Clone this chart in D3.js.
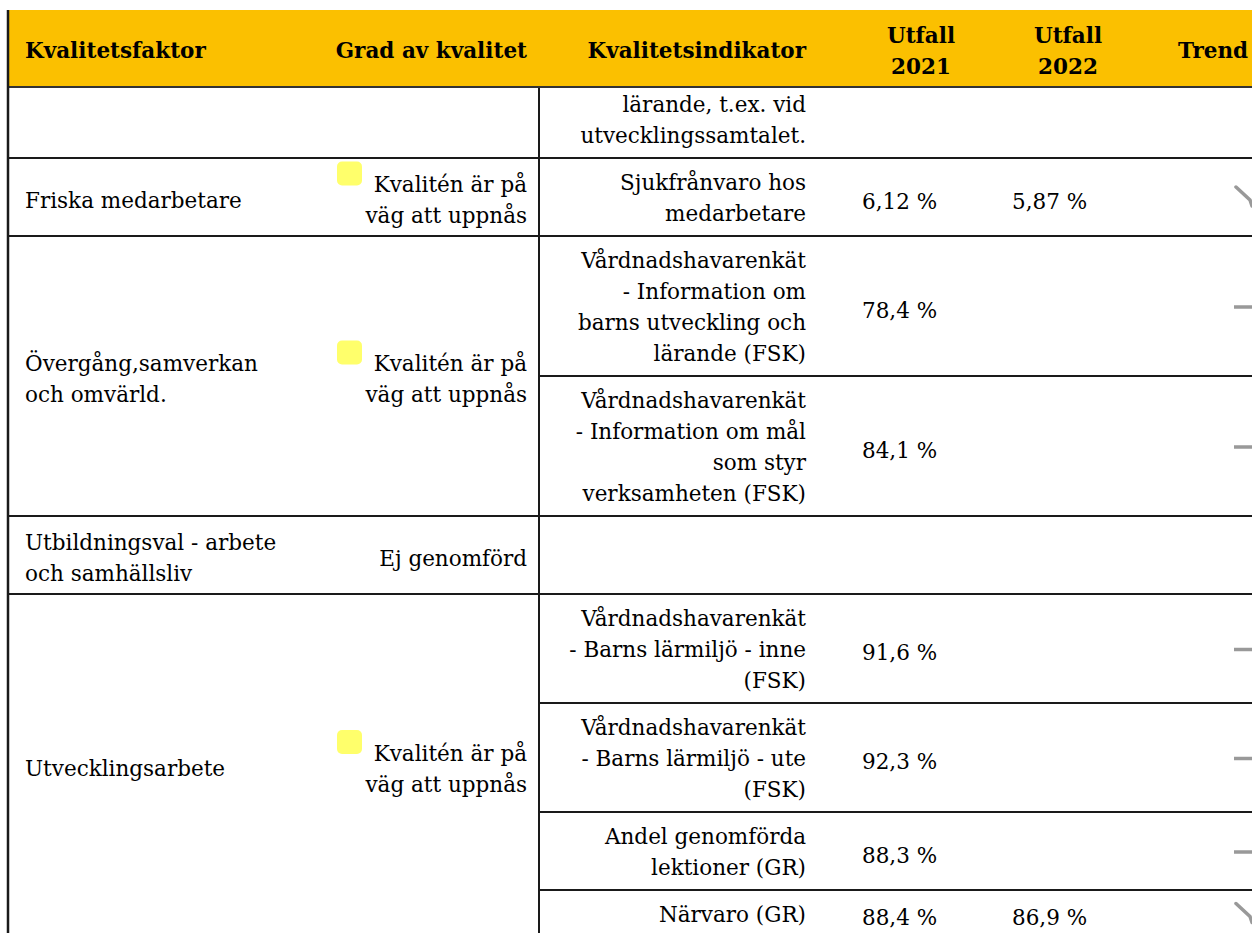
<!DOCTYPE html>
<html>
<head>
<meta charset="utf-8">
<script src="https://cdn.jsdelivr.net/npm/d3@7"></script>
<style>
  body { margin: 0; background: #fff; }
  svg { display: block; }
</style>
</head>
<body>
<div id="chart"></div>
<script>
// table content, one array per column / field
const headerLabels = [["Kvalitetsfaktor"], ["Grad av kvalitet"], ["Kvalitetsindikator"], ["Utfall", "2021"], ["Utfall", "2022"], ["Trend"]];

const factors = [[], ["Friska medarbetare"], ["Övergång,samverkan", "och omvärld."], ["Utbildningsval - arbete", "och samhällsliv"], ["Utvecklingsarbete"]];
const grades = [[], ["Kvalitén är på", "väg att uppnås"], ["Kvalitén är på", "väg att uppnås"], ["Ej genomförd"], ["Kvalitén är på", "väg att uppnås"]];
const gradeMarked = [false, true, true, false, true];

// indicator rows, each belongs to a factor group
const indicatorGroup = [0, 1, 2, 2, 3, 4, 4, 4, 4];
const indicators = [
  ["lärande, t.ex. vid", "utvecklingssamtalet."],
  ["Sjukfrånvaro hos", "medarbetare"],
  ["Vårdnadshavarenkät", "- Information om", "barns utveckling och", "lärande (FSK)"],
  ["Vårdnadshavarenkät", "- Information om mål", "som styr", "verksamheten (FSK)"],
  [],
  ["Vårdnadshavarenkät", "- Barns lärmiljö - inne", "(FSK)"],
  ["Vårdnadshavarenkät", "- Barns lärmiljö - ute", "(FSK)"],
  ["Andel genomförda", "lektioner (GR)"],
  ["Närvaro (GR)"]
];
const utfall2021 = [null, "6,12 %", "78,4 %", "84,1 %", null, "91,6 %", "92,3 %", "88,3 %", "88,4 %"];
const utfall2022 = [null, "5,87 %", null, null, null, null, null, null, "86,9 %"];
const trend = [null, "down", "flat", "flat", null, "flat", "flat", "flat", "down"];

let dim = {width: 1252, height: 933};
const font = "'DejaVu Serif', serif";
const fontSize = 21.5;
const lineH = 31;
const pad = 8;
const headerTop = 10, headerBottom = 87, firstRowBottom = 158;
const col = {factor: 25, grade: 527, divider: 539, indicator: 806, u21: 862, u22: 1012, trend: 1243, left: 8};
const lineColor = "#1a1a1a";

let svg = d3.select('#chart').append('svg')
    .attr('width', dim.width)
    .attr('height', dim.height);

// row heights from line counts
let rowLines = indicators.map((d, i) => {
  let n = Math.max(d.length, 1);
  let sameGroup = indicatorGroup.filter(g => g === indicatorGroup[i]).length;
  if (sameGroup === 1) n = Math.max(n, factors[indicatorGroup[i]].length, grades[indicatorGroup[i]].length);
  return n;
});
let rowH = rowLines.map(n => n * lineH + pad * 2);
let rowTop = [];
let y = firstRowBottom - rowH[0];
rowH.forEach((h, i) => { rowTop.push(y); y += h; });

let groups = factors.map((f, gi) => {
  let idx = indicatorGroup.map((g, i) => g === gi ? i : -1).filter(i => i >= 0);
  let top = rowTop[idx[0]];
  let bottom = rowTop[idx[idx.length - 1]] + rowH[idx[idx.length - 1]];
  return {gi, top, bottom, first: idx[0]};
});

function multiline(g, lines, x, cy, anchor, weight) {
  let t = g.append('text')
      .attr('x', x)
      .attr('text-anchor', anchor)
      .attr('font-family', font)
      .attr('font-size', fontSize)
      .attr('font-weight', weight || 'normal')
      .attr('fill', '#000');
  let y0 = cy - (lines.length - 1) * lineH / 2;
  lines.forEach((l, i) => {
    t.append('tspan').attr('x', x).attr('y', y0 + i * lineH).attr('dy', '0.35em').text(l);
  });
  return t;
}

let body = svg.append('g');

// factor + grade columns (merged cells)
groups.forEach(gr => {
  let cy = (gr.top + gr.bottom) / 2 + 3;
  if (factors[gr.gi].length) multiline(body, factors[gr.gi], col.factor, cy, 'start');
  if (grades[gr.gi].length) {
    multiline(body, grades[gr.gi], col.grade, cy, 'end');
    if (gradeMarked[gr.gi]) {
      let firstY = cy - (grades[gr.gi].length - 1) * lineH / 2;
      body.append('rect')
          .attr('x', 337).attr('y', firstY - 23)
          .attr('width', 25).attr('height', 24)
          .attr('rx', 5)
          .attr('fill', '#ffff6b');
    }
  }
});

// indicator rows
indicators.forEach((d, i) => {
  let cy = rowTop[i] + rowH[i] / 2 + 1;
  if (d.length) multiline(body, d, col.indicator, cy, 'end');
  if (utfall2021[i]) multiline(body, [utfall2021[i]], col.u21, cy + 3, 'start');
  if (utfall2022[i]) multiline(body, [utfall2022[i]], col.u22, cy + 3, 'start');
  if (trend[i] === 'flat') {
    body.append('line')
        .attr('x1', col.trend - 9).attr('x2', col.trend + 12)
        .attr('y1', cy).attr('y2', cy)
        .attr('stroke', '#999').attr('stroke-width', 3.5);
  } else if (trend[i] === 'down') {
    body.append('path')
        .attr('d', `M${col.trend - 7},${cy - 11} L${col.trend + 7},${cy + 2} L${col.trend + 9},${cy + 8}`)
        .attr('fill', 'none')
        .attr('stroke', '#999').attr('stroke-width', 3.5)
        .attr('stroke-linecap', 'round');
  }
});

// grid lines
let lines = svg.append('g').attr('stroke', lineColor).attr('stroke-width', 2);
groups.forEach(gr => {
  if (gr.gi > 0) lines.append('line').attr('x1', col.left).attr('x2', dim.width).attr('y1', gr.top).attr('y2', gr.top);
});
indicators.forEach((d, i) => {
  if (i > 0 && indicatorGroup[i] === indicatorGroup[i - 1])
    lines.append('line').attr('x1', col.divider).attr('x2', dim.width).attr('y1', rowTop[i]).attr('y2', rowTop[i]);
});
lines.append('line').attr('x1', col.divider).attr('x2', col.divider).attr('y1', headerBottom).attr('y2', dim.height);

// header
let head = svg.append('g');
head.append('rect')
    .attr('x', col.left).attr('y', headerTop)
    .attr('width', dim.width - col.left).attr('height', headerBottom - headerTop)
    .attr('fill', '#fbc000');
let hy = (headerTop + headerBottom) / 2 + 2;
const headerX = [col.factor, col.grade, col.indicator, 921, 1068, 1178];
const headerAnchor = ['start', 'end', 'end', 'middle', 'middle', 'start'];
headerLabels.forEach((l, i) => multiline(head, l, headerX[i], hy, headerAnchor[i], 'bold'));
head.append('line')
    .attr('x1', col.left).attr('x2', dim.width)
    .attr('y1', headerBottom).attr('y2', headerBottom)
    .attr('stroke', '#333').attr('stroke-width', 2);

// left border over everything
svg.append('line')
    .attr('x1', col.left).attr('x2', col.left)
    .attr('y1', headerTop).attr('y2', dim.height)
    .attr('stroke', lineColor).attr('stroke-width', 2.5);
</script>
</body>
</html>
